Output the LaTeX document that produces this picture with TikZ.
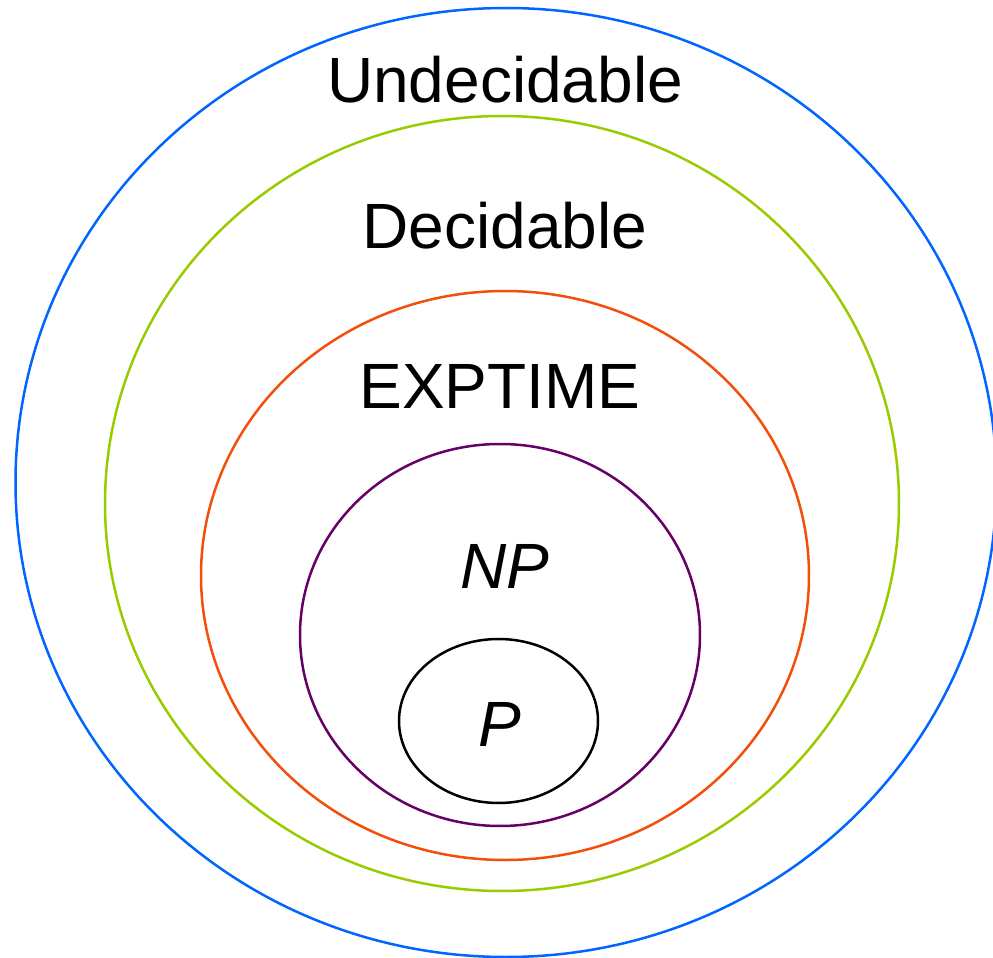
\documentclass[tikz,border=0pt]{standalone}
\usepackage{fontspec}
\setmainfont{Liberation Sans}
\definecolor{undecblue}{RGB}{0,102,255}
\definecolor{decgreen}{RGB}{153,204,0}
\definecolor{expred}{RGB}{242,80,10}
\definecolor{nppurple}{RGB}{102,0,102}
\tikzset{
  classring/.style={line width=1.25pt},
  classlabel/.style={anchor=base, inner sep=0pt, font=\fontsize{32}{38}\selectfont},
  classlabelit/.style={classlabel, font=\fontsize{32}{38}\selectfont\itshape}
}
\begin{document}
\begin{tikzpicture}[x=0.5pt, y=-0.5pt]
  \useasboundingbox (0,0) rectangle (993,958);
  % nested complexity classes, outermost first
  \begin{scope}
    \clip (0,0) rectangle (993,958);
    \draw[classring, undecblue] (506,482.5) ellipse [x radius=490.5, y radius=474.5];
  \end{scope}
  \draw[classring, decgreen] (502,503.5) ellipse [x radius=397, y radius=387.5];
  \draw[classring, expred]   (505,575.5) ellipse [x radius=304, y radius=284.5];
  \draw[classring, nppurple] (500,635)   ellipse [x radius=200, y radius=191];
  \draw[classring, black]    (498.5,721) ellipse [x radius=99.5, y radius=82];
  % class names
  \node[classlabel]   (undec) at (505,102) {Undecidable};
  \node[classlabel]   (dec)   at (505,248) {Decidable};
  \node[classlabel]   (exp)   at (500,408) {EXPTIME};
  \node[classlabelit] (np)    at (505,588) {NP};
  \node[classlabelit] (p)     at (500,746) {P};
\end{tikzpicture}
\end{document}
